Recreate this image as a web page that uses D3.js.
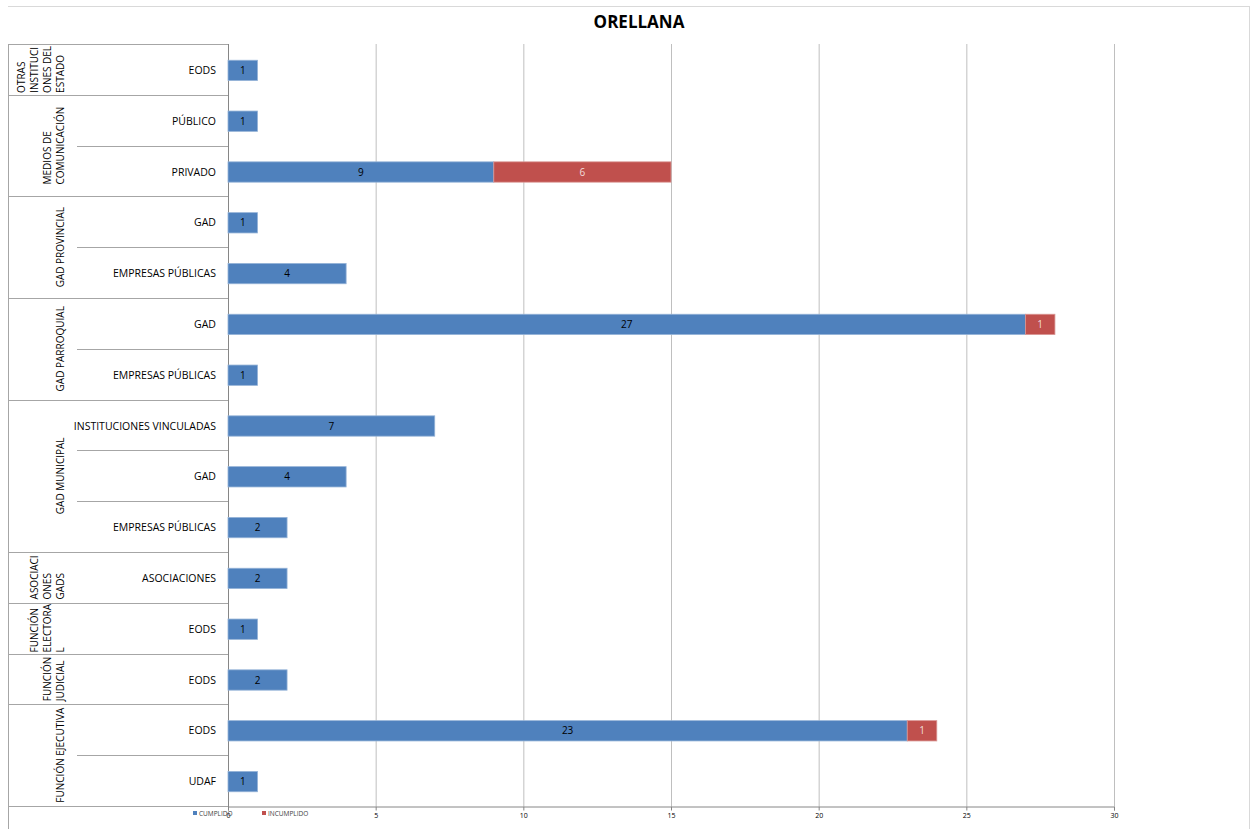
<!DOCTYPE html>
<html><head><meta charset="utf-8">
<script src="https://cdn.jsdelivr.net/npm/d3@7"></script>
<style>body{margin:0;background:#fff}svg{display:block}</style>
</head><body>
<svg id="c" width="1251" height="829"></svg>
<script>
const title = "ORELLANA";
const groups = [
  {lines:["OTRAS","INSTITUCI","ONES DEL","ESTADO"], n:1},
  {lines:["MEDIOS DE","COMUNICACIÓN"], n:2},
  {lines:["GAD PROVINCIAL"], n:2},
  {lines:["GAD PARROQUIAL"], n:2},
  {lines:["GAD MUNICIPAL"], n:3},
  {lines:["ASOCIACI","ONES","GADS"], n:1},
  {lines:["FUNCIÓN","ELECTORA","L"], n:1},
  {lines:["FUNCIÓN","JUDICIAL"], n:1},
  {lines:["FUNCIÓN EJECUTIVA"], n:2}
];
const categories = ["EODS","PÚBLICO","PRIVADO","GAD","EMPRESAS PÚBLICAS","GAD","EMPRESAS PÚBLICAS","INSTITUCIONES VINCULADAS","GAD","EMPRESAS PÚBLICAS","ASOCIACIONES","EODS","EODS","EODS","UDAF"];
const cumplido   = [1,1,9,1,4,27,1,7,4,2,2,1,2,23,1];
const incumplido = [0,0,6,0,0,1,0,0,0,0,0,0,0,1,0];
const seriesNames = ["CUMPLIDO","INCUMPLIDO"];
const colors = ["#4F81BD","#C0504D"];
const xTicks = [0,5,10,15,20,25,30];

const svg = d3.select("#c");
const font = "'Open Sans', sans-serif";
const L = 228, R = 1114, T = 44, B = 806, tableL = 8, subL = 77;

const x = d3.scaleLinear().domain([0,30]).range([L,R]);
const idx = d3.range(categories.length);
const y = d3.scaleBand().domain(idx).range([T+1,B+1]).paddingInner(0.6).paddingOuter(0.3);
const step = (B-T)/categories.length;

// chart border
svg.append("line").attr("x1",tableL).attr("x2",1250).attr("y1",6.5).attr("y2",6.5).attr("stroke","#d9d9d9");
svg.append("line").attr("x1",1249.5).attr("x2",1249.5).attr("y1",6).attr("y2",829).attr("stroke","#d9d9d9");

// title
svg.append("text").attr("x",639).attr("y",28).attr("text-anchor","middle")
  .attr("font-family",font).attr("font-weight","bold").attr("font-size",17).text(title);

// gridlines
svg.append("g").selectAll("line").data(xTicks.slice(1)).join("line")
  .attr("x1",d=>x(d)+0.5).attr("x2",d=>x(d)+0.5).attr("y1",T).attr("y2",B)
  .attr("stroke","#bfbfbf");

// x axis
const xa = svg.append("g").attr("transform",`translate(0,${B+0.5})`)
  .call(d3.axisBottom(x).tickValues(xTicks).tickSize(4).tickPadding(3));
xa.select(".domain").attr("stroke","#868686");
xa.selectAll(".tick line").attr("stroke","#868686");
xa.selectAll(".tick text").attr("font-family",font).attr("font-size",7).attr("fill","#000");

// table lines
const tg = svg.append("g").attr("stroke","#a6a6a6").attr("fill","none");
tg.append("line").attr("x1",tableL+0.5).attr("x2",tableL+0.5).attr("y1",T).attr("y2",829);
tg.append("line").attr("x1",L+0.5).attr("x2",L+0.5).attr("y1",T).attr("y2",B+4).attr("stroke","#868686");
let start = 0;
const gPos = [];
groups.forEach((g,gi)=>{
  const y0 = T + start*step, y1 = T + (start+g.n)*step;
  gPos.push({g, y0, y1});
  for(let k=1;k<g.n;k++){
    const yy = Math.round(T+(start+k)*step)+0.5;
    tg.append("line").attr("x1",subL).attr("x2",L).attr("y1",yy).attr("y2",yy);
  }
  start += g.n;
});
const bounds = [T].concat(gPos.map(p=>p.y1));
bounds.forEach(b=>{
  const yy = Math.round(b)+0.5;
  tg.append("line").attr("x1",tableL).attr("x2",L).attr("y1",yy).attr("y2",yy);
});

// group labels
gPos.forEach(p=>{
  const cy = (p.y0+p.y1)/2;
  const nl = p.g.lines.length;
  const t = svg.append("text").attr("font-family",font).attr("font-size",10).attr("fill","#000");
  p.g.lines.forEach((ln,i)=>{
    t.append("tspan").attr("x",0).attr("y",(i-(nl-1))*13).text(ln);
  });
  let maxLen = 0;
  t.selectAll("tspan").each(function(){maxLen=Math.max(maxLen,this.getComputedTextLength());});
  t.attr("transform",`translate(64,${cy+maxLen/2}) rotate(-90)`);
});

// category labels
svg.append("g").selectAll("text").data(idx).join("text")
  .attr("x",216).attr("y",i=>y(i)+y.bandwidth()/2).attr("dy","0.35em")
  .attr("text-anchor","end").attr("font-family",font).attr("font-size",10.5).attr("fill","#000")
  .text(i=>categories[i]);

// bars
const stack = idx.map(i=>[[0,cumplido[i]],[cumplido[i],cumplido[i]+incumplido[i]]]);
const bars = svg.append("g");
[cumplido, incumplido].forEach((vals,s)=>{
  const data = idx.filter(i=>vals[i]>0);
  bars.append("g").selectAll("rect").data(data).join("rect")
    .attr("x",i=>x(stack[i][s][0])).attr("width",i=>x(stack[i][s][1])-x(stack[i][s][0]))
    .attr("y",i=>y(i)).attr("height",y.bandwidth())
    .attr("fill",colors[s]).attr("stroke",s?"#d99694":"#95b3d7").attr("stroke-width",0.8);
  bars.append("g").selectAll("text").data(data).join("text")
    .attr("x",i=>(x(stack[i][s][0])+x(stack[i][s][1]))/2)
    .attr("y",i=>y(i)+y.bandwidth()/2).attr("dy","0.35em").attr("text-anchor","middle")
    .attr("font-family",font).attr("font-size",10).attr("fill",s?"#f2dcdb":"#000")
    .text(i=>vals[i]);
});

// legend
const leg = svg.append("g");
const legX = [193, 262];
seriesNames.forEach((nm,i)=>{
  leg.append("rect").attr("x",legX[i]).attr("y",811).attr("width",4).attr("height",4).attr("fill",colors[i]);
  leg.append("text").attr("x",legX[i]+6).attr("y",815.5).attr("font-family",font).attr("font-size",6.5)
    .attr("fill","#404040").text(nm);
});
</script>
</body></html>
